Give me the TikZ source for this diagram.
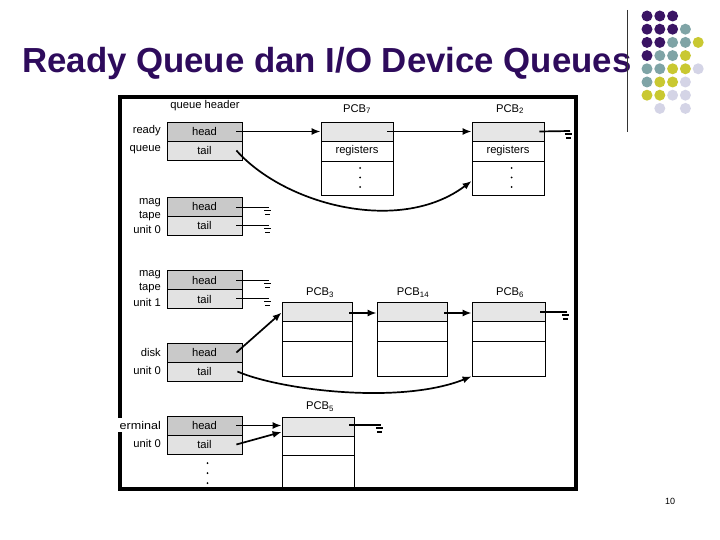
\documentclass[tikz,border=0pt]{standalone}
\usepackage{fontspec}
\setmainfont{Liberation Sans}
\usetikzlibrary{arrows.meta,calc}
\definecolor{titlec}{HTML}{2E0B5C}
\definecolor{dpur}{HTML}{3A1464}
\definecolor{dteal}{HTML}{7FA4A6}
\definecolor{dyel}{HTML}{C9C831}
\definecolor{dlav}{HTML}{D4D4E6}
\definecolor{headc}{HTML}{C9C9C9}
\definecolor{tailc}{HTML}{E2E2E2}
\definecolor{pcbc}{HTML}{E6E6E6}
\begin{document}
\begin{tikzpicture}[x=1pt,y=-1pt,
  sm/.style={font=\fontsize{11.2}{13}\selectfont, inner sep=0},
  lab/.style={sm, anchor=east},
  hdr/.style={sm, draw, line width=0.8pt, minimum width=75pt, minimum height=19pt},
  pcbrow/.style={sm, draw, line width=0.8pt, minimum width=72pt},
  conn/.style={line width=1.7pt, -{Latex[length=9pt,width=7pt]}},
  wire/.style={line width=1.7pt},
  gnd/.pic={\draw[line width=1.4pt] (-5,3)--(2,3); \draw[line width=1.4pt] (-4,7)--(1,7);},
  dot/.style={radius=5.5}
]
\useasboundingbox (0,0) rectangle (720,540);
% title
\node[anchor=base west, inner sep=0, font=\bfseries\fontsize{34.8}{38}\selectfont, text=titlec] (title) at (22,73) {Ready Queue dan I/O Device Queues};
\draw[line width=1pt, black!80] (627,10) -- (627,132);
% decorative dots
\foreach \c/\r/\col in {0/0/dpur,1/0/dpur,2/0/dpur,
  0/1/dpur,1/1/dpur,2/1/dpur,3/1/dteal,
  0/2/dpur,1/2/dpur,2/2/dteal,3/2/dteal,4/2/dyel,
  0/3/dpur,1/3/dteal,2/3/dteal,3/3/dyel,
  0/4/dteal,1/4/dteal,2/4/dyel,3/4/dyel,4/4/dlav,
  0/5/dteal,1/5/dyel,2/5/dyel,3/5/dlav,
  0/6/dyel,1/6/dyel,2/6/dlav,3/6/dlav,
  1/7/dlav,3/7/dlav}
  \fill[\col] ({647+12.8*\c},{16+13.2*\r}) circle[dot];
% page number
\node[font=\fontsize{9}{10}\selectfont, inner sep=0] (pnum) at (670,501) {10};

% queue header
\node[sm] (qh) at (205,106) {queue header};
% ready queue
\node[hdr, fill=headc] (rh) at (204.5,131.5) {head};
\node[hdr, fill=tailc] (rt) at (204.5,150.5) {tail};
\node[lab] (lr1) at (161,131) {ready};
\node[lab] (lr2) at (161,150) {queue};
% mag tape unit 0
\node[hdr, fill=headc] (t0h) at (204.5,206.5) {head};
\node[hdr, fill=tailc] (t0t) at (204.5,225.5) {tail};
\node[lab] (l01) at (161,202.5) {mag};
\node[lab] (l02) at (161,216) {tape};
\node[lab] (l03) at (161,229.5) {unit 0};
% mag tape unit 1
\node[hdr, fill=headc] (t1h) at (204.5,280) {head};
\node[hdr, fill=tailc] (t1t) at (204.5,299) {tail};
\node[lab] (l11) at (161,275) {mag};
\node[lab] (l12) at (161,288.5) {tape};
\node[lab] (l13) at (161,302) {unit 1};
% disk unit 0
\node[hdr, fill=headc] (dh) at (204.5,352.5) {head};
\node[hdr, fill=tailc] (dt) at (204.5,371.5) {tail};
\node[lab] (ld1) at (161,352) {disk};
\node[lab] (ld2) at (161,370.5) {unit 0};
% terminal unit 0
\node[hdr, fill=headc] (th) at (204.5,425.5) {head};
\node[hdr, fill=tailc] (tt) at (204.5,444.5) {tail};
\node[lab] (lt2) at (161,443.5) {unit 0};
\foreach \yy in {463,473,483} \fill (207.5,\yy) circle[radius=1];

% PCB7
\node[sm] (p7l) at (357,109) {PCB\textsubscript{7}};
\node[pcbrow, fill=pcbc, minimum height=19pt] (p7a) at (357,131.5) {};
\node[pcbrow, minimum height=20pt] (p7b) at (357,151) {registers};
\node[pcbrow, minimum height=34pt] (p7c) at (357,178) {};
\foreach \yy in {168,177.5,187} \fill (360,\yy) circle[radius=1];
% PCB2
\node[sm] (p2l) at (510,109) {PCB\textsubscript{2}};
\node[pcbrow, fill=pcbc, minimum height=19pt] (p2a) at (508,131.5) {};
\node[pcbrow, minimum height=20pt] (p2b) at (508,151) {registers};
\node[pcbrow, minimum height=34pt] (p2c) at (508,178) {};
\foreach \yy in {168,177.5,187} \fill (511.5,\yy) circle[radius=1];
% PCB3
\node[sm] (p3l) at (320,292.5) {PCB\textsubscript{3}};
\node[pcbrow, fill=pcbc, minimum width=70pt, minimum height=19pt] (p3a) at (317,311.5) {};
\node[pcbrow, minimum width=70pt, minimum height=20pt] (p3b) at (317,331) {};
\node[pcbrow, minimum width=70pt, minimum height=35pt] (p3c) at (317,358.5) {};
% PCB14
\node[sm] (p14l) at (413,292.5) {PCB\textsubscript{14}};
\node[pcbrow, fill=pcbc, minimum width=70pt, minimum height=19pt] (p14a) at (412,311.5) {};
\node[pcbrow, minimum width=70pt, minimum height=20pt] (p14b) at (412,331) {};
\node[pcbrow, minimum width=70pt, minimum height=35pt] (p14c) at (412,358.5) {};
% PCB6
\node[sm] (p6l) at (510,292.5) {PCB\textsubscript{6}};
\node[pcbrow, fill=pcbc, minimum width=73pt, minimum height=19pt] (p6a) at (508.5,311.5) {};
\node[pcbrow, minimum width=73pt, minimum height=20pt] (p6b) at (508.5,331) {};
\node[pcbrow, minimum width=73pt, minimum height=35pt] (p6c) at (508.5,358.5) {};
% PCB5
\node[sm] (p5l) at (320,406.5) {PCB\textsubscript{5}};
\node[pcbrow, fill=pcbc, minimum height=19pt] (p5a) at (318,426.5) {};
\node[pcbrow, minimum height=19pt] (p5b) at (318,445.5) {};
\node[pcbrow, minimum height=33pt] (p5c) at (318,471.5) {};

% ground points
\coordinate (g2) at (570,131);
\coordinate (g01) at (269,207.5);
\coordinate (g02) at (269,225.5);
\coordinate (g11) at (269,280.5);
\coordinate (g12) at (269,298.5);
\coordinate (g6) at (567,312);
\coordinate (g5) at (381,425);

% connectors ready queue
\draw[conn] ($(rh.east)+(-6,0)$) -- (p7a.west);
\draw[conn] ($(p7a.east)+(-6,0)$) -- (p2a.west);
\draw[wire] ($(p2a.east)+(-5,0)$) -- (g2);
\draw[conn] ($(rt.east)+(-6,0)$) .. controls (285,205) and (400,235) .. ($(p2c.west)+(0,3)$);
% tapes
\draw[wire] ($(t0h.east)+(-6,1)$) -- (g01);
\draw[wire] ($(t0t.east)+(-6,0)$) -- (g02);
\draw[wire] ($(t1h.east)+(-6,0.5)$) -- (g11);
\draw[wire] ($(t1t.east)+(-6,-0.5)$) -- (g12);
% disk
\draw[conn] ($(dh.east)+(-6,0)$) -- ($(p3a.west)+(0,1)$);
\draw[conn] ($(p3a.east)+(-3,1.5)$) -- ($(p14a.west)+(0,1.5)$);
\draw[conn] ($(p14a.east)+(-3,1.5)$) -- ($(p6a.west)+(0,1.5)$);
\draw[wire, line width=2.2pt] ($(p6a.east)+(-5,0.5)$) -- (g6);
\draw[conn] ($(dt.east)+(-5,0)$) .. controls (280,390) and (400,405) .. (p6c.south west);
% terminal
\draw[conn] ($(th.east)+(-6,0)$) -- ($(p5a.west)+(0,-1)$);
\draw[conn] ($(tt.east)+(-6,0)$) -- ($(p5a.west)+(0,5.5)$);
\draw[wire] ($(p5a.east)+(-5,-1.5)$) -- (g5);

\foreach \g in {g2,g01,g02,g11,g12,g6,g5} \pic at (\g) {gnd};

% frame
\draw[line width=4pt] (120,97) rectangle (576,489);
% label over frame
\fill[white] (116,418) rectangle (123,432);
\node[lab] (lt1) at (161,425) {\scalebox{1.12}[1]{erminal}};
\end{tikzpicture}
\end{document}
